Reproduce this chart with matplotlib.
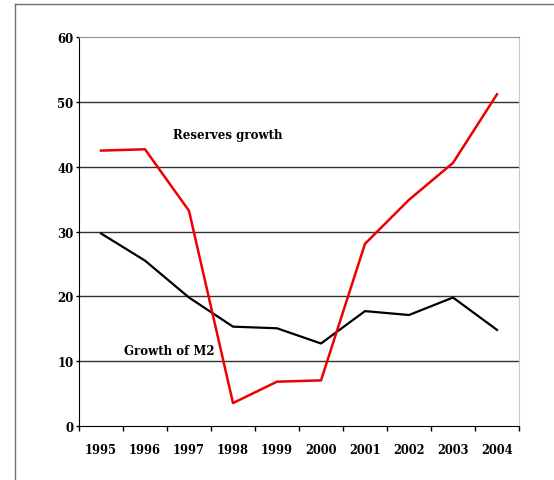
import matplotlib.pyplot as plt
from matplotlib.lines import Line2D

years = ['1995', '1996', '1997', '1998', '1999', '2000', '2001', '2002', '2003', '2004']
reserves = [42.5, 42.7, 33.2, 3.5, 6.8, 7.0, 28.1, 34.9, 40.6, 51.2]
m2 = [29.7, 25.5, 19.8, 15.3, 15.05, 12.7, 17.7, 17.1, 19.8, 14.8]

plt.rcParams['font.family'] = 'DejaVu Serif'
plt.rcParams['font.weight'] = 'bold'

fig = plt.figure(figsize=(5.54, 4.81), dpi=100)
ax = fig.add_axes([79/554, 54.3/481, 440/554, 388.4/481])

# outer frame (only left and top visible)
fig.add_artist(Line2D([15/554, 15/554], [0, 1 - 5.3/481], transform=fig.transFigure, color='#707070', lw=1))
fig.add_artist(Line2D([15/554, 1], [1 - 5.3/481, 1 - 5.3/481], transform=fig.transFigure, color='#707070', lw=1))

x = list(range(len(years)))
ax.plot(x, m2, color='black', lw=1.6)
ax.plot(x, reserves, color='#ee0000', lw=1.8)

ax.set_xlim(-0.5, 9.5)
ax.set_ylim(0, 60)
ax.set_yticks(range(0, 61, 10))
ax.set_xticks([i - 0.5 for i in range(11)])
ax.set_xticklabels([])
ax.set_xticks(x, minor=True)
ax.set_xticklabels(years, minor=True)
ax.tick_params(axis='x', which='major', direction='out', length=3.6, width=1)
ax.tick_params(axis='x', which='minor', length=0, pad=12.5, labelsize=8.3)
ax.tick_params(axis='y', direction='out', length=2, width=1, pad=2, labelsize=8.5)

for v in range(10, 51, 10):
    ax.axhline(v, color='#303030', lw=1, zorder=0)

ax.spines['left'].set_color('black')
ax.spines['bottom'].set_color('black')
ax.spines['top'].set_color('#909090')
ax.spines['right'].set_color('#c8c8c8')

ax.text(2.875, 45.06, 'Reserves growth', ha='center', va='center', fontsize=8.5, fontweight='bold')
ax.text(1.545, 11.6, 'Growth of M2', ha='center', va='center', fontsize=8.5, fontweight='bold')

fig.savefig('out.png', dpi=100)
